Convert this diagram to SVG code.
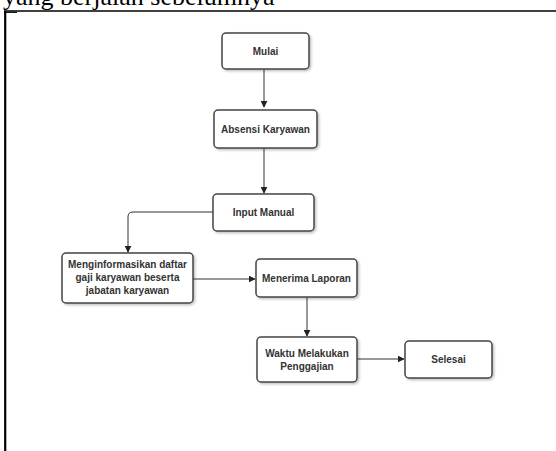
<svg xmlns="http://www.w3.org/2000/svg" width="556" height="451" viewBox="0 0 556 451">
  <defs>
    <filter id="shadow" x="-10%" y="-10%" width="130%" height="140%">
      <feDropShadow dx="1.5" dy="1.5" stdDeviation="1" flood-color="#000" flood-opacity="0.25"/>
    </filter>
    <marker id="arrow" viewBox="0 0 10 10" refX="9" refY="5" markerWidth="7" markerHeight="7" markerUnits="userSpaceOnUse" orient="auto">
      <path d="M0,0 L10,5 L0,10 Z" fill="#222"/>
    </marker>
  </defs>
  <style>
    .box { fill: #ffffff; stroke: #444444; stroke-width: 1.5; filter: url(#shadow); }
    .label { font-family: "Liberation Sans", Arial, sans-serif; font-size: 10px; font-weight: bold; fill: #333333; text-anchor: middle; }
    .edge { fill: none; stroke: #333333; stroke-width: 1; marker-end: url(#arrow); }
    .frame { fill: none; stroke: #000000; }
  </style>

  <rect x="0" y="0" width="556" height="451" fill="#ffffff"/>

  <!-- heading line, cut at the top -->
  <text x="3" y="5" font-family="'Liberation Serif', 'Times New Roman', serif" font-size="26" fill="#000000">yang berjalan sebelumnya</text>

  <!-- page frame -->
  <line class="frame" x1="4" y1="11" x2="556" y2="11" stroke-width="1.6"/>
  <line class="frame" x1="5.2" y1="11" x2="5.2" y2="451" stroke-width="2.2"/>
  <line class="frame" x1="4" y1="12.3" x2="17" y2="12.3" stroke-width="1.2"/>

  <!-- connectors -->
  <g id="connectors">
    <path class="edge" d="M264,69 L264,107"/>
    <path class="edge" d="M264,148 L264,193"/>
    <path class="edge" d="M213,212 L133,212 Q128,212 128,217 L128,252"/>
    <path class="edge" d="M193,279 L255,279"/>
    <path class="edge" d="M307,297 L307,336"/>
    <path class="edge" d="M357,359 L404,359"/>
  </g>

  <g id="mulai">
    <rect class="box" x="222" y="33" width="87" height="36" rx="4"/>
    <text class="label" x="265.5" y="54.5">Mulai</text>
  </g>

  <g id="absensi-karyawan">
    <rect class="box" x="214" y="110" width="103" height="38" rx="4"/>
    <text class="label" x="265.5" y="132.5">Absensi Karyawan</text>
  </g>

  <g id="input-manual">
    <rect class="box" x="213" y="194" width="101" height="37" rx="4"/>
    <text class="label" x="263.5" y="216">Input Manual</text>
  </g>

  <g id="menginformasikan">
    <rect class="box" x="62" y="253" width="131" height="50" rx="4"/>
    <text class="label" x="127.5" y="267.5">Menginformasikan daftar</text>
    <text class="label" x="127.5" y="281">gaji karyawan beserta</text>
    <text class="label" x="127.5" y="294">jabatan karyawan</text>
  </g>

  <g id="menerima-laporan">
    <rect class="box" x="256" y="259" width="101" height="38" rx="4"/>
    <text class="label" x="306.5" y="282">Menerima Laporan</text>
  </g>

  <g id="waktu-penggajian">
    <rect class="box" x="257" y="337" width="100" height="45" rx="4"/>
    <text class="label" x="307" y="356.5">Waktu Melakukan</text>
    <text class="label" x="307" y="369.5">Penggajian</text>
  </g>

  <g id="selesai">
    <rect class="box" x="405" y="341" width="87" height="37" rx="4"/>
    <text class="label" x="448.5" y="363">Selesai</text>
  </g>
</svg>
